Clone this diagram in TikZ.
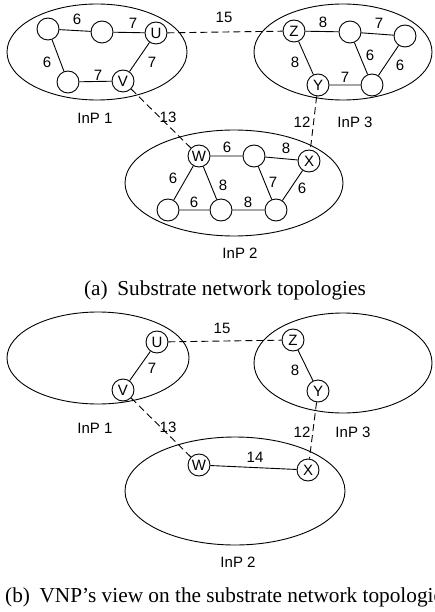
\documentclass[tikz,border=0pt]{standalone}
\usepackage{fontspec}
\setmainfont{Liberation Serif}
\newfontfamily\labelfont{Liberation Sans}
\begin{document}
\begin{tikzpicture}[x=1pt,y=-1pt,
  every node/.style={font=\labelfont\fontsize{15}{15}\selectfont},
  router/.style={circle,draw,line width=0.9pt,minimum size=22pt,inner sep=0pt},
  inpzone/.style={draw,line width=0.9pt},
  phylink/.style={line width=0.9pt},
  interlink/.style={line width=0.9pt,dash pattern=on 7pt off 4pt},
  wt/.style={inner sep=0pt},
  captext/.style={font=\fontsize{21.3}{21.3}\selectfont,inner sep=0pt}]
\useasboundingbox (0,0) rectangle (434,612);

% ---------- (a) substrate network topologies ----------
\draw[inpzone] (97,52) ellipse [x radius=90, y radius=48];
\draw[inpzone] (343,52) ellipse [x radius=89, y radius=48];
\draw[inpzone] (234,183) ellipse [x radius=109, y radius=53];

% InP 1
\node[router] (a1) at (48,29) {};
\node[router] (a2) at (102,32) {};
\node[router] (aU) at (156,33) {U};
\node[router] (a3) at (68,82) {};
\node[router] (aV) at (123,81) {V};
% InP 3
\node[router] (aZ) at (294,31) {Z};
\node[router] (c1) at (350,32) {};
\node[router] (c2) at (405,36) {};
\node[router] (aY) at (318,85) {Y};
\node[router] (c3) at (372,85) {};
% InP 2
\node[router] (aW) at (199,156) {W};
\node[router] (b1) at (254,156) {};
\node[router] (aX) at (309,161) {X};
\node[router] (b2) at (168,210) {};
\node[router] (b3) at (221,210) {};
\node[router] (b4) at (276,210) {};

\draw[phylink] (a1) -- (a2) (a2) -- (aU) (a1) -- (a3) (a3) -- (aV) (aU) -- (aV);
\draw[phylink] (aZ) -- (c1) (c1) -- (c2) (aZ) -- (aY) (c1) -- (c3) (c2) -- (c3) (aY) -- (c3);
\draw[phylink] (aW) -- (b1) (b1) -- (aX) (aW) -- (b2) (aW) -- (b3) (b2) -- (b3)
            (b3) -- (b4) (b1) -- (b4) (aX) -- (b4);
\draw[interlink] (aU) -- (aZ) (aV) -- (aW) (aY) -- (aX);

\node[wt] (w1) at (77,19) {6};
\node[wt] (w2) at (133,23) {7};
\node[wt] (w3) at (47,62) {6};
\node[wt] (w4) at (98,75) {7};
\node[wt] (w5) at (152,62) {7};
\node[wt] (w6) at (323,22) {8};
\node[wt] (w7) at (379,23) {7};
\node[wt] (w8) at (295,62) {8};
\node[wt] (w9) at (370,55) {6};
\node[wt] (w10) at (400,65) {6};
\node[wt] (w11) at (345,77) {7};
\node[wt] (w12) at (227,147) {6};
\node[wt] (w13) at (286,148) {8};
\node[wt] (w14) at (173,178) {6};
\node[wt] (w15) at (223,185) {8};
\node[wt] (w16) at (194,202) {6};
\node[wt] (w17) at (248,202) {8};
\node[wt] (w18) at (273,182) {7};
\node[wt] (w19) at (302,188) {6};
\node[wt] (w20) at (224,17) {15};
\node[wt] (w21) at (168,117) {13};
\node[wt] (w22) at (302,122) {12};

\node (n1) at (95,118) {InP 1};
\node (n3) at (355,122) {InP 3};
\node (n2) at (240,253) {InP 2};

\node[captext,anchor=base] (capa) at (225,295) {(a)\hspace{0.2em} Substrate network topologies};

% ---------- (b) VNP's view ----------
\draw[inpzone] (98,358) ellipse [x radius=91, y radius=46];
\draw[inpzone] (343,363) ellipse [x radius=89, y radius=50];
\draw[inpzone] (235,491) ellipse [x radius=110, y radius=54];

\node[router] (bU) at (157,342) {U};
\node[router] (bV) at (123,390) {V};
\node[router] (bZ) at (293,340) {Z};
\node[router] (bY) at (318,391) {Y};
\node[router] (bW) at (199,465) {W};
\node[router] (bX) at (308,470) {X};

\draw[phylink] (bU) -- (bV) (bZ) -- (bY) (bW) -- (bX);
\draw[interlink] (bU) -- (bZ) (bV) -- (bW) (bY) -- (bX);

\node[wt] (v1) at (152,368) {7};
\node[wt] (v2) at (295,370) {8};
\node[wt] (v3) at (255,457) {14};
\node[wt] (v4) at (222,328) {15};
\node[wt] (v5) at (168,427) {13};
\node[wt] (v6) at (302,432) {12};

\node (m1) at (95,428) {InP 1};
\node (m3) at (353,432) {InP 3};
\node (m2) at (238,562) {InP 2};

\node[captext,anchor=base west] (capb) at (5,602) {(b)\hspace{0.2em} VNP's view on the substrate network topologies};
\end{tikzpicture}
\end{document}
